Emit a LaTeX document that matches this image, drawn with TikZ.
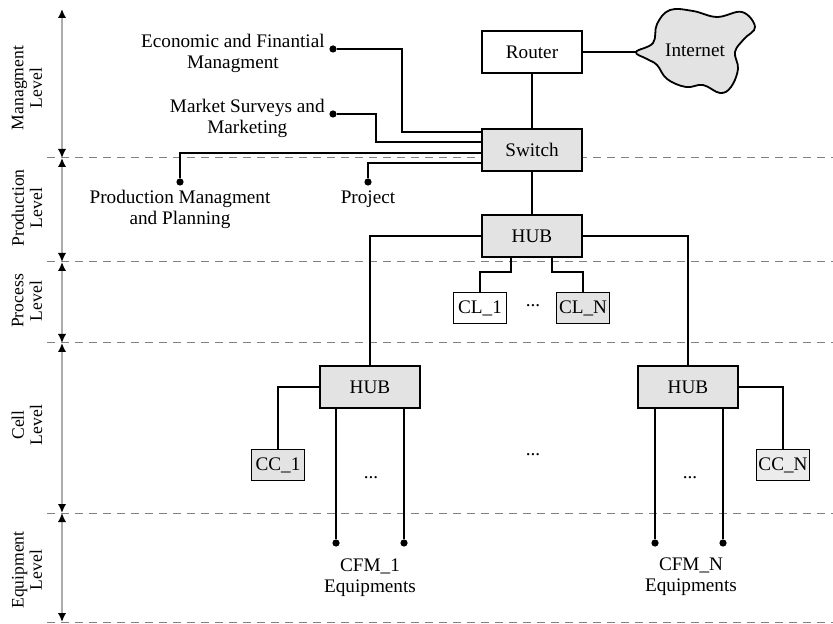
\documentclass[tikz,border=0pt]{standalone}
\usepackage{fontspec}
\setmainfont{Liberation Serif}
\usetikzlibrary{arrows.meta, positioning, calc}

\begin{document}
\begin{tikzpicture}[x=0.5pt, y=-0.5pt,
        box/.style={rectangle, draw, line width=0.9pt, fill=white, minimum width=50pt, minimum height=21pt, inner sep=1pt, font=\fontsize{9.6}{11}\selectfont},
        grbox/.style={box, fill=gray!22},
        cbox/.style={box, minimum width=26.5pt, minimum height=15.5pt},
        dot/.style={circle, fill, inner sep=0pt, minimum size=3.6pt},
        wire/.style={line width=0.8pt},
        lbl/.style={align=center, inner sep=1pt, font=\fontsize{9.6}{10.5}\selectfont},
        lvl/.style={rotate=90, align=center, inner sep=1pt, font=\fontsize{8.8}{9.2}\selectfont},
        axis/.style={{Latex[length=4.5pt, width=4.2pt, color=black]}-{Latex[length=4.5pt, width=4.2pt, color=black]}, gray!65, line width=0.9pt},
        sep/.style={gray, line width=0.5pt, dash pattern=on 4pt off 3pt}
    ]
        \useasboundingbox (0,0) rectangle (833,624);

        % Levels
        \foreach \i/\y in {0/9, 1/158, 2/262, 3/343, 4/513, 5/622}
            \coordinate (b\i) at (62,\y);
        \foreach \i in {1,...,5}
            \draw[sep] ($(b\i)+(-15,0)$) -- ($(b\i)+(771,0)$);
        \foreach \i/\j in {0/1, 1/2, 2/3, 3/4, 4/5}
            \draw[axis] (b\i) -- (b\j);
        \node[lvl] (lvM) at (27,88) {Managment\\Level};
        \node[lvl] (lvP) at (27,208) {Production\\Level};
        \node[lvl] (lvR) at (27,301) {Process\\Level};
        \node[lvl] (lvC) at (27,425) {Cell\\Level};
        \node[lvl] (lvE) at (27,570) {Equipment\\Level};

        % Network
        \node[box] (router) at (532,52) {Router};
        \node[grbox] (sw) at (532,150) {Switch};
        \node[grbox] (hub) at (532,236) {HUB};
        \node[grbox] (hubA) at (370,387) {HUB};
        \node[grbox] (hubB) at (688,387) {HUB};
        \node[cbox] (clA) at (480,308) {CL\_1};
        \node[cbox, fill=gray!22] (clB) at (583,308) {CL\_N};
        \node[cbox, fill=gray!22] (ccA) at (278,465) {CC\_1};
        \node[cbox, fill=gray!15] (ccB) at (783,465) {CC\_N};

        % Internet
        \coordinate (netL) at (636,52);
        \draw[line width=0.9pt, fill=gray!22] plot[smooth cycle, tension=0.65] coordinates {
            (636,52) (653,43) (657,24) (670,10) (693,11) (717,17) (742,12) (755,27)
            (744,39) (735,52) (738,69) (731,87) (720,93) (703,85) (686,87) (667,79)
            (657,65) (647,59)};
        \node[lbl] (inet) at (695,50) {Internet};

        \draw[wire] (router) -- (sw);
        \draw[wire] (router.east) -- (netL);
        \draw[wire] (sw) -- (hub);

        % Management and production
        \foreach \p/\dy in {A/-18, B/-8, C/3, D/13}
            \coordinate (sw\p) at ($(sw.west)+(0,\dy)$);
        \node[dot] (econD) at (333,49) {};
        \node[lbl, left=1pt of econD, yshift=-2pt] (econ) {Economic and Finantial\\Managment};
        \node[dot] (mktD) at (333,114) {};
        \node[lbl, left=1pt of mktD, yshift=-2pt] (mkt) {Market Surveys and\\Marketing};
        \node[dot] (prodD) at (180,182) {};
        \node[lbl, below=1pt of prodD] (prod) {Production Managment\\and Planning};
        \node[dot] (projD) at (368,182) {};
        \node[lbl, below=1pt of projD] (proj) {Project};

        \draw[wire] (econD) -- ++(69,0) |- (swA);
        \draw[wire] (mktD) -- ++(43,0) |- (swB);
        \draw[wire] (swC) -| (prodD);
        \draw[wire] (swD) -| (projD);

        % Process and cell
        \draw[wire] (hub.west) -| (hubA.north);
        \draw[wire] (hub.east) -| (hubB.north);
        \draw[wire] ($(hub.south)+(-21,0)$) -- ++(0,14) -| (clA.north);
        \draw[wire] ($(hub.south)+(20,0)$) -- ++(0,14) -| (clB.north);
        \draw[wire] (hubA.west) -| (ccA.north);
        \draw[wire] (hubB.east) -| (ccB.north);

        % Equipment
        \foreach \n/\x in {fA1/336, fA2/404, fB1/655, fB2/723}
            \node[dot] (\n) at (\x,543) {};
        \foreach \h/\n in {hubA/fA1, hubA/fA2, hubB/fB1, hubB/fB2}
            \draw[wire] (\h.south -| \n) -- (\n);
        \node[lbl] (cfmA) at (370,578) {CFM\_1\\Equipments};
        \node[lbl] (cfmB) at (691,577) {CFM\_N\\Equipments};

        \node[lbl] (dCL) at (533,306) {...};
        \node[lbl] (dMid) at (533,455) {...};
        \node[lbl] (dA) at (371,478) {...};
        \node[lbl] (dB) at (690,478) {...};
    \end{tikzpicture}
\end{document}
